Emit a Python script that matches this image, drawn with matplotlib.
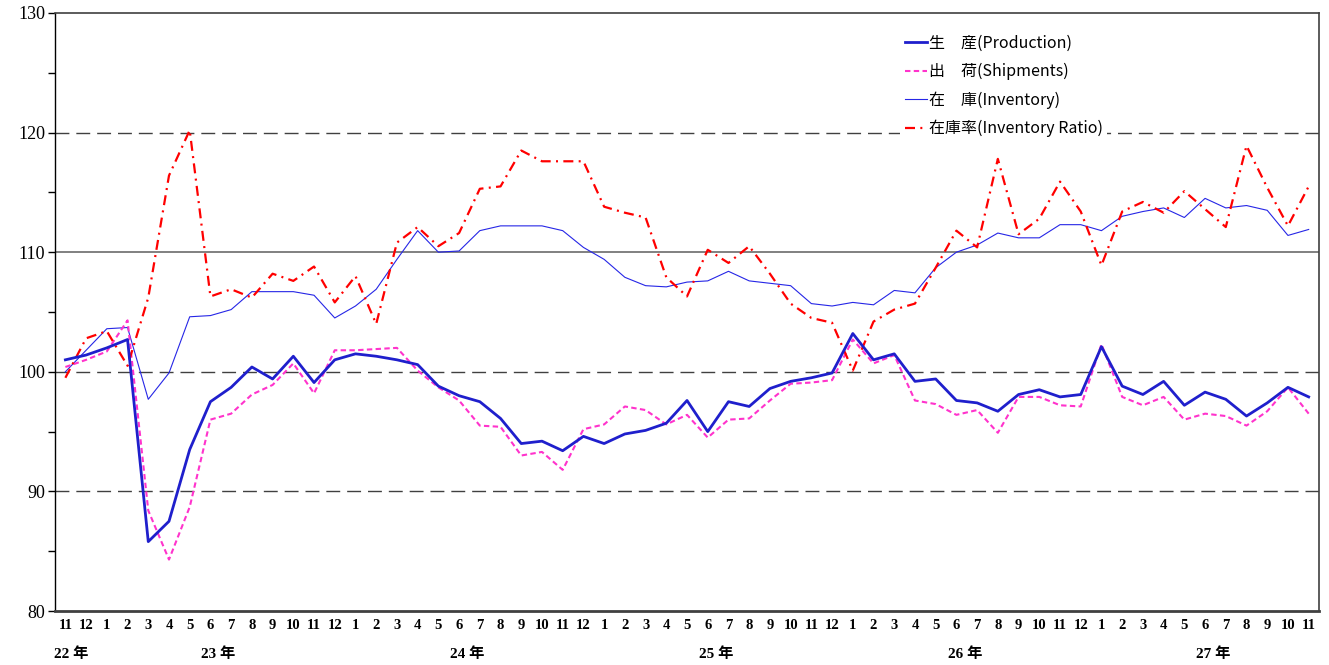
import matplotlib
matplotlib.use("Agg")
import matplotlib.pyplot as plt
from matplotlib.ticker import MultipleLocator
import numpy as np

plt.rcParams['font.family'] = ['Noto Sans CJK JP', 'DejaVu Sans']

# month labels: 22/11 .. 27/11
months = [11, 12] + list(range(1, 13)) * 4 + list(range(1, 12))
years = ["22 年", "23 年", "24 年", "25 年", "26 年", "27 年"]
year_pos = [0.3, 7.35, 19.4, 31.4, 43.4, 55.4]

production = [101.0, 101.4, 102.0, 102.7, 85.8, 87.5, 93.5, 97.5, 98.7, 100.4,
              99.4, 101.3, 99.1, 101.0, 101.5, 101.3, 101.0, 100.6, 98.8, 98.0,
              97.5, 96.1, 94.0, 94.2, 93.4, 94.6, 94.0, 94.8, 95.1, 95.7,
              97.6, 95.0, 97.5, 97.1, 98.6, 99.2, 99.5, 99.9, 103.2, 101.0,
              101.5, 99.2, 99.4, 97.6, 97.4, 96.7, 98.1, 98.5, 97.9, 98.1,
              102.1, 98.8, 98.1, 99.2, 97.2, 98.3, 97.7, 96.3, 97.4, 98.7,
              97.9]
shipments = [100.4, 101.0, 101.7, 104.3, 88.4, 84.3, 88.7, 96.0, 96.5, 98.1,
             98.9, 100.7, 98.2, 101.8, 101.8, 101.9, 102.0, 100.1, 98.7, 97.6,
             95.5, 95.4, 93.0, 93.3, 91.8, 95.2, 95.6, 97.1, 96.8, 95.6,
             96.4, 94.5, 96.0, 96.1, 97.6, 99.0, 99.1, 99.3, 102.7, 100.7,
             101.4, 97.6, 97.3, 96.4, 96.8, 94.9, 97.9, 97.9, 97.2, 97.1,
             102.3, 97.9, 97.2, 97.9, 96.0, 96.5, 96.3, 95.5, 96.7, 98.7,
             96.5]
inventory = [100.0, 101.8, 103.6, 103.7, 97.7, 99.9, 104.6, 104.7, 105.2, 106.7,
             106.7, 106.7, 106.4, 104.5, 105.5, 106.9, 109.4, 111.8, 110.0, 110.1,
             111.8, 112.2, 112.2, 112.2, 111.8, 110.4, 109.4, 107.9, 107.2, 107.1,
             107.5, 107.6, 108.4, 107.6, 107.4, 107.2, 105.7, 105.5, 105.8, 105.6,
             106.8, 106.6, 108.7, 110.0, 110.6, 111.6, 111.2, 111.2, 112.3, 112.3,
             111.8, 113.0, 113.4, 113.7, 112.9, 114.5, 113.7, 113.9, 113.5, 111.4,
             111.9]
inv_ratio = [99.5, 102.8, 103.4, 100.5, 106.2, 116.4, 120.2, 106.3, 106.9, 106.2,
             108.2, 107.6, 108.8, 105.8, 108.0, 104.0, 110.8, 112.1, 110.5, 111.6,
             115.3, 115.5, 118.5, 117.6, 117.6, 117.6, 113.8, 113.3, 112.9, 107.9,
             106.3, 110.2, 109.1, 110.5, 108.2, 105.7, 104.5, 104.1, 100.1, 104.2,
             105.2, 105.7, 108.7, 111.8, 110.4, 117.8, 111.5, 112.8, 115.9, 113.4,
             108.9, 113.4, 114.2, 113.3, 115.1, 113.6, 112.1, 118.9, 115.4, 112.2,
             115.5]

x = np.arange(len(months))

fig = plt.figure(figsize=(13.29, 6.65), dpi=100)
ax = fig.add_axes([0.0414, 0.0812, 0.9511, 0.8993])

# reference lines
for yv in [90, 100, 120]:
    ax.axhline(yv, color='#404040', lw=1.0, dashes=(10, 5), zorder=1)
ax.axhline(110, color='#808080', lw=1.4, zorder=1)

ax.plot(x, inventory, color='#2626E6', lw=0.8, zorder=3, label='在　庫(Inventory)')
ax.plot(x, shipments, color='#FF33CC', lw=1.5, dashes=(2.6, 1.6), zorder=4,
        label='出　荷(Shipments)')
ax.plot(x, inv_ratio, color='#FF0000', lw=1.6, dashes=(4.5, 2.4, 0.9, 2.4), zorder=4,
        label='在庫率(Inventory Ratio)')
ax.plot(x, production, color='#1F1FCC', lw=2.0, zorder=5, label='生　産(Production)')

ax.set_xlim(-0.5, 60.5)
ax.set_ylim(80, 130)

ax.yaxis.set_major_locator(MultipleLocator(10))
ax.yaxis.set_minor_locator(MultipleLocator(5))
ax.tick_params(axis='y', which='both', direction='out', length=5, width=1.0,
               labelsize=13, pad=2, colors='black')
for lab in ax.get_yticklabels():
    lab.set_family('Liberation Serif')

ax.set_xticks(x)
ax.set_xticklabels([str(m) for m in months], family='Liberation Serif',
                   fontweight='bold', fontsize=10.5)
ax.tick_params(axis='x', length=0, pad=6)

for lbl, p in zip(years, year_pos):
    ax.text(p, -0.06, lbl, transform=ax.get_xaxis_transform(), ha='center', va='top',
            fontsize=11, fontweight='bold', family=['Liberation Serif', 'Noto Sans CJK JP'])

ax.spines['left'].set_color('black')
ax.spines['left'].set_linewidth(1.0)
ax.spines['bottom'].set_color('#404040')
ax.spines['bottom'].set_linewidth(2.0)
ax.spines['right'].set_color('#404040')
ax.spines['right'].set_linewidth(1.2)
ax.spines['top'].set_color('#404040')
ax.spines['top'].set_linewidth(1.2)

h, l = ax.get_legend_handles_labels()
order = [3, 1, 0, 2]
leg = ax.legend([h[i] for i in order], [l[i] for i in order],
                loc='upper left', bbox_to_anchor=(0.662, 0.985), fontsize=11.5,
                handlelength=1.4, handletextpad=0.1, labelspacing=0.7,
                frameon=True, fancybox=False, borderpad=0.3)
leg.get_frame().set_facecolor('white')
leg.get_frame().set_edgecolor('none')
leg.get_frame().set_alpha(1.0)
leg.set_zorder(10)

fig.savefig('out.png', dpi=100)
